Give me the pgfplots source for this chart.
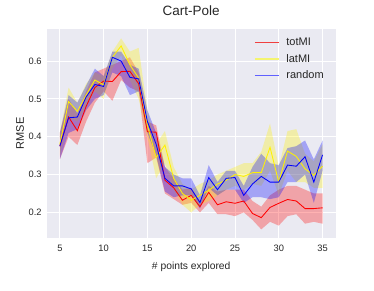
\documentclass[border=0pt]{standalone}
\usepackage{pgfplots}
\pgfplotsset{compat=1.18}
\usepackage{pgfplotstable}
\usepgfplotslibrary{fillbetween}
\usepackage{fontspec}
\setmainfont{Liberation Sans}
\definecolor{bg}{HTML}{EAEAF2}
\definecolor{txt}{HTML}{262626}
\definecolor{legred}{HTML}{F04040}
\definecolor{legyel}{HTML}{F4F470}
\definecolor{legblu}{HTML}{6060FF}
\pgfplotstableread{
x rm rl ru ym yl yu bm bl bu
5 0.375 0.340 0.410 0.380 0.350 0.410 0.375 0.340 0.410
6 0.452 0.400 0.500 0.493 0.450 0.530 0.450 0.410 0.510
7 0.416 0.378 0.460 0.467 0.440 0.490 0.452 0.420 0.490
8 0.480 0.440 0.520 0.510 0.480 0.540 0.505 0.470 0.535
9 0.530 0.490 0.570 0.550 0.520 0.570 0.538 0.500 0.580
10 0.547 0.520 0.580 0.537 0.500 0.560 0.533 0.510 0.560
11 0.546 0.495 0.590 0.610 0.580 0.625 0.610 0.570 0.625
12 0.572 0.550 0.600 0.640 0.615 0.660 0.600 0.560 0.625
13 0.573 0.530 0.610 0.590 0.550 0.625 0.557 0.510 0.590
14 0.540 0.520 0.570 0.555 0.500 0.635 0.553 0.520 0.580
15 0.413 0.330 0.440 0.430 0.400 0.470 0.440 0.410 0.470
16 0.412 0.345 0.430 0.345 0.290 0.380 0.380 0.350 0.410
17 0.285 0.250 0.320 0.378 0.330 0.415 0.290 0.255 0.320
18 0.265 0.235 0.290 0.290 0.260 0.320 0.270 0.240 0.300
19 0.232 0.220 0.260 0.250 0.220 0.275 0.270 0.245 0.290
20 0.245 0.225 0.265 0.232 0.200 0.260 0.262 0.245 0.290
21 0.215 0.200 0.230 0.245 0.220 0.275 0.226 0.210 0.245
22 0.253 0.225 0.270 0.258 0.230 0.285 0.292 0.265 0.325
23 0.220 0.195 0.255 0.275 0.245 0.300 0.260 0.245 0.280
24 0.228 0.195 0.260 0.285 0.260 0.310 0.290 0.260 0.310
25 0.224 0.190 0.260 0.300 0.270 0.320 0.292 0.260 0.310
26 0.230 0.200 0.260 0.295 0.260 0.330 0.245 0.225 0.270
27 0.197 0.180 0.230 0.305 0.275 0.330 0.275 0.240 0.320
28 0.186 0.155 0.215 0.305 0.270 0.360 0.295 0.240 0.355
29 0.213 0.175 0.245 0.372 0.310 0.435 0.280 0.235 0.330
30 0.224 0.165 0.260 0.280 0.245 0.320 0.280 0.240 0.325
31 0.234 0.190 0.270 0.362 0.310 0.415 0.325 0.280 0.370
32 0.230 0.195 0.270 0.348 0.280 0.420 0.322 0.280 0.375
33 0.210 0.170 0.260 0.315 0.280 0.355 0.347 0.300 0.390
34 0.210 0.175 0.250 0.298 0.265 0.335 0.280 0.225 0.340
35 0.212 0.170 0.250 0.322 0.265 0.380 0.352 0.310 0.390
}\data
\begin{document}
\begin{tikzpicture}
\begin{axis}[
  scale only axis, width=289pt, height=208.4pt,
  xmin=3.5, xmax=36.5, ymin=0.133, ymax=0.684,
  axis background/.style={fill=bg},
  axis line style={draw=none},
  major tick length=0pt,
  grid=major, grid style={white, line width=0.8pt},
  xtick={5,10,...,35}, ytick={0.2,0.3,0.4,0.5,0.6},
  yticklabel style={/pgf/number format/fixed, /pgf/number format/precision=1},
  /pgf/number format/assume math mode=true,
  tick label style={font=\fontsize{9.3}{11}\selectfont, text=txt},
  xticklabel style={yshift=-4pt},
  yticklabel style={xshift=-1.5pt},
  xlabel={\# points explored}, ylabel={RMSE},
  xlabel style={font=\fontsize{10.3}{12}\selectfont, text=txt, yshift=-3pt},
  ylabel style={font=\fontsize{11}{13}\selectfont, text=txt, yshift=-2pt},
  title={Cart-Pole},
  title style={font=\fontsize{13.5}{15}\selectfont, text=txt, yshift=4pt},
  legend style={draw=none, fill=none, inner sep=0pt, at={(rel axis cs:0.717,0.962)}, anchor=north west,
    font=\fontsize{11}{13}\selectfont, text=txt, row sep=6.7pt,
    nodes={text height=8pt, text depth=2pt, inner ysep=0pt}},
  legend cell align=left,
  legend image code/.code={\draw[#1] (0pt,0pt) -- (24pt,0pt);},
]
\addplot[name path=rU, draw=none, forget plot] table[x=x,y=ru]{\data};
\addplot[name path=rL, draw=none, forget plot] table[x=x,y=rl]{\data};
\addplot[fill=red, fill opacity=0.3, draw=none, forget plot] fill between[of=rU and rL];
\addplot[red, line width=0.85pt, forget plot] table[x=x,y=rm]{\data};
\addplot[name path=yU, draw=none, forget plot] table[x=x,y=yu]{\data};
\addplot[name path=yL, draw=none, forget plot] table[x=x,y=yl]{\data};
\addplot[fill=yellow, fill opacity=0.3, draw=none, forget plot] fill between[of=yU and yL];
\addplot[yellow, line width=0.85pt, forget plot] table[x=x,y=ym]{\data};
\addplot[name path=bU, draw=none, forget plot] table[x=x,y=bu]{\data};
\addplot[name path=bL, draw=none, forget plot] table[x=x,y=bl]{\data};
\addplot[fill=blue, fill opacity=0.3, draw=none, forget plot] fill between[of=bU and bL];
\addplot[blue, line width=0.85pt, forget plot] table[x=x,y=bm]{\data};
\addlegendimage{legred, line width=1pt}\addlegendentry{\hspace{5pt}totMI}
\addlegendimage{legyel, line width=1.3pt}\addlegendentry{\hspace{5pt}latMI}
\addlegendimage{legblu, line width=1pt}\addlegendentry{\hspace{5pt}random}
\end{axis}
\pgfresetboundingbox
\path[use as bounding box] (-46.7pt,-53.3pt) rectangle (327.3pt,237.7pt);
\end{tikzpicture}
\end{document}
